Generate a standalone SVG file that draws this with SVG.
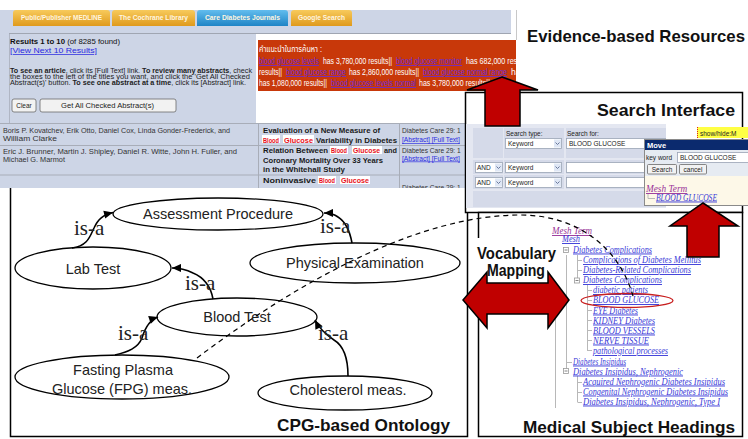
<svg xmlns="http://www.w3.org/2000/svg" width="748" height="439" viewBox="0 0 748 439">
<style>
.tab{font-family:"Liberation Sans",Arial,sans-serif;font-size:7px;font-weight:bold;fill:#fff6e0}
.sm{font-family:"Liberation Sans",Arial,sans-serif;font-size:6.6px;fill:#333}
.smb{font-family:"Liberation Sans",Arial,sans-serif;font-size:7px;font-weight:bold;fill:#1a1a1a}
.hl{font-family:"Liberation Sans",Arial,sans-serif;font-size:7px;font-weight:bold;fill:#e8101a}
.lnk{font-family:"Liberation Sans",Arial,sans-serif;fill:#2a2ae0;text-decoration:underline}
.rw{font-family:"Liberation Sans","Noto Sans Thai","DejaVu Sans",sans-serif;font-size:8.6px;fill:#fff}
.rl{font-family:"Liberation Sans",Arial,sans-serif;font-size:8.6px;fill:#6a2cd8;text-decoration:underline}
.title{font-family:"Liberation Sans",Arial,sans-serif;font-weight:bold;font-size:17px;fill:#111}
.node ellipse{fill:#fff;stroke:#000;stroke-width:1.3}
.node text{font-family:"Liberation Sans",Arial,sans-serif;font-size:14.5px;fill:#222;text-anchor:middle}
.isa{font-family:"Liberation Serif","Times New Roman",serif;font-size:21px;fill:#222}
.edge{fill:none;stroke:#000;stroke-width:1.6;marker-end:url(#ah)}
.mesh{font-family:"Liberation Serif","Times New Roman",serif;font-style:italic;font-size:9.3px;fill:#3a3ad8;text-decoration:underline}
.tree{stroke:#b8b8b8;stroke-width:1;fill:none}
.redarrow{fill:#c00000;stroke:#000;stroke-width:1.5}
.ui{font-family:"Liberation Sans",Arial,sans-serif;font-size:6.5px;fill:#222}
.sel{fill:#fff;stroke:#9aa3b5;stroke-width:0.8}
.btn{fill:#f2f2f2;stroke:#6a6a6a;stroke-width:0.8}
.cell{fill:#d5dae9}
</style>
<defs>
<linearGradient id="gold" x1="0" y1="0" x2="0" y2="1"><stop offset="0" stop-color="#f7ca5c"/><stop offset="1" stop-color="#df9a1c"/></linearGradient>
<linearGradient id="blue" x1="0" y1="0" x2="0" y2="1"><stop offset="0" stop-color="#62bcee"/><stop offset="1" stop-color="#1f84c6"/></linearGradient>
<clipPath id="redclip"><rect x="258" y="40" width="258" height="51"/></clipPath>
<marker id="ah" viewBox="0 0 10 10" refX="10" refY="5" markerWidth="10" markerHeight="9" markerUnits="userSpaceOnUse" orient="auto"><path d="M0,0.5 L10,5 L0,9.5 Z" fill="#000"/></marker>
</defs>
<rect width="748" height="439" fill="#fff"/>

<!-- Evidence-based resources screenshot -->
<g id="evidence-screenshot">
<rect x="0" y="10" width="511" height="178" fill="#cdd5e6"/>
<line x1="516.5" y1="10" x2="516.5" y2="40" stroke="#c8c8c8"/>
<path d="M13,26 V13 Q13,10 16,10 H107 Q110,10 110,13 V26 Z" fill="url(#gold)"/>
<path d="M112,26 V13 Q112,10 115,10 H192 Q195,10 195,13 V26 Z" fill="url(#gold)"/>
<path d="M197,26 V13 Q197,10 200,10 H285 Q288,10 288,13 V26 Z" fill="url(#blue)"/>
<path d="M291,26 V13 Q291,10 294,10 H349 Q352,10 352,13 V26 Z" fill="url(#gold)"/>
<text class="tab" x="21" y="19.5" textLength="81" lengthAdjust="spacingAndGlyphs">Public/Publisher MEDLINE</text>
<text class="tab" x="119" y="19.5" textLength="69" lengthAdjust="spacingAndGlyphs">The Cochrane Library</text>
<text class="tab" x="205" y="19.5" textLength="75" lengthAdjust="spacingAndGlyphs">Care Diabetes Journals</text>
<text class="tab" x="298" y="19.5" textLength="47" lengthAdjust="spacingAndGlyphs">Google Search</text>
<line x1="9" y1="33.5" x2="511" y2="33.5" stroke="#a0a6b2"/>
<line x1="9.5" y1="34" x2="9.5" y2="123" stroke="#b0b6c4"/>
<text x="10" y="43.5" font-family="Liberation Sans, Arial, sans-serif" font-size="7.8" fill="#111" textLength="110" lengthAdjust="spacingAndGlyphs"><tspan font-weight="bold">Results 1 to 10</tspan> (of 8285 found)</text>
<text class="lnk" x="10" y="53" font-size="7.5" textLength="87" lengthAdjust="spacingAndGlyphs">[View Next 10 Results]</text>
<text class="ui" x="10" y="72.5" font-size="6.2" textLength="242" lengthAdjust="spacingAndGlyphs"><tspan font-weight="bold">To see an article</tspan>, click its [Full Text] link. <tspan font-weight="bold">To review many abstracts</tspan>, check</text>
<text class="ui" x="10" y="78.8" font-size="6.2" textLength="240" lengthAdjust="spacingAndGlyphs">the boxes to the left of the titles you want, and click the 'Get All Checked</text>
<text class="ui" x="10" y="85.2" font-size="6.2" textLength="236" lengthAdjust="spacingAndGlyphs">Abstract(s)' button. <tspan font-weight="bold">To see one abstract at a time</tspan>, click its [Abstract] link.</text>
<rect class="btn" x="12" y="99" width="24" height="13" rx="2"/>
<text class="ui" x="24" y="108.3" font-size="7.5" text-anchor="middle">Clear</text>
<rect class="btn" x="40" y="99" width="136" height="13" rx="2"/>
<text class="ui" x="61" y="108.3" font-size="7.5" textLength="93" lengthAdjust="spacingAndGlyphs">Get All Checked Abstract(s)</text>

<rect x="256" y="34" width="260" height="89" fill="#fff"/>
<rect x="258" y="40" width="258" height="51" fill="#c8380a"/>
<g clip-path="url(#redclip)">
<text class="rw" x="259" y="52" textLength="63" lengthAdjust="spacingAndGlyphs">คำแนะนำในการค้นหา :</text>
<text class="rl" x="259" y="64" textLength="60" lengthAdjust="spacingAndGlyphs">blood glucose levels</text>
<text class="rw" x="323" y="64" textLength="69" lengthAdjust="spacingAndGlyphs">has 3,780,000 results||</text>
<text class="rl" x="396" y="64" textLength="66" lengthAdjust="spacingAndGlyphs">blood glucose monitor</text>
<text class="rw" x="466" y="64" textLength="66" lengthAdjust="spacingAndGlyphs">has 682,000 results||</text>
<text class="rw" x="259" y="75" textLength="23" lengthAdjust="spacingAndGlyphs">results||</text>
<text class="rl" x="286" y="75" textLength="60" lengthAdjust="spacingAndGlyphs">blood glucose range</text>
<text class="rw" x="349" y="75" textLength="70" lengthAdjust="spacingAndGlyphs">has 2,860,000 results||</text>
<text class="rl" x="423" y="75" textLength="84" lengthAdjust="spacingAndGlyphs">blood glucose normal range</text>
<text class="rw" x="511" y="75">has</text>
<text class="rw" x="259" y="86" textLength="68" lengthAdjust="spacingAndGlyphs">has 1,080,000 results||</text>
<text class="rl" x="331" y="86" textLength="85" lengthAdjust="spacingAndGlyphs">blood glucose levels normal</text>
<text class="rw" x="419" y="86" textLength="71" lengthAdjust="spacingAndGlyphs">has 3,780,000 results||</text>
</g>

<!-- result table -->
<line x1="0" y1="123.5" x2="465" y2="123.5" stroke="#a8adb8"/>
<line x1="0" y1="145.5" x2="465" y2="145.5" stroke="#a8adb8"/>
<line x1="0" y1="175" x2="465" y2="175" stroke="#a8adb8"/>
<line x1="258.5" y1="123" x2="258.5" y2="188" stroke="#a8adb8"/>
<line x1="399.5" y1="123" x2="399.5" y2="188" stroke="#a8adb8"/>
<text class="sm" x="3" y="133" textLength="227" lengthAdjust="spacingAndGlyphs">Boris P. Kovatchev, Erik Otto, Daniel Cox, Linda Gonder-Frederick, and</text>
<text class="sm" x="3" y="141" textLength="54" lengthAdjust="spacingAndGlyphs">William Clarke</text>
<text class="sm" x="3" y="154" textLength="234" lengthAdjust="spacingAndGlyphs">Eric J. Brunner, Martin J. Shipley, Daniel R. Witte, John H. Fuller, and</text>
<text class="sm" x="3" y="162" textLength="62" lengthAdjust="spacingAndGlyphs">Michael G. Marmot</text>

<text class="smb" x="263" y="133" textLength="117" lengthAdjust="spacingAndGlyphs">Evaluation of a New Measure of</text>
<rect x="262" y="135" width="18" height="8" fill="#fff"/>
<rect x="283" y="135" width="31" height="8" fill="#fff"/>
<text class="hl" x="263" y="142.5" textLength="16" lengthAdjust="spacingAndGlyphs">Blood</text>
<text class="hl" x="284" y="142.5" textLength="29" lengthAdjust="spacingAndGlyphs">Glucose</text>
<text class="smb" x="316" y="142.5" textLength="81" lengthAdjust="spacingAndGlyphs">Variability in Diabetes</text>
<text class="smb" x="263" y="153" textLength="65" lengthAdjust="spacingAndGlyphs">Relation Between</text>
<rect x="330" y="146" width="18" height="8" fill="#fff"/>
<rect x="352" y="146" width="30" height="8" fill="#fff"/>
<text class="hl" x="331" y="153" textLength="16" lengthAdjust="spacingAndGlyphs">Blood</text>
<text class="hl" x="353" y="153" textLength="27" lengthAdjust="spacingAndGlyphs">Glucose</text>
<text class="smb" x="384" y="153" textLength="13" lengthAdjust="spacingAndGlyphs">and</text>
<text class="smb" x="263" y="162.5" textLength="120" lengthAdjust="spacingAndGlyphs">Coronary Mortality Over 33 Years</text>
<text class="smb" x="263" y="172" textLength="82" lengthAdjust="spacingAndGlyphs">in the Whitehall Study</text>
<text class="smb" x="263" y="182.5" textLength="53" lengthAdjust="spacingAndGlyphs">Noninvasive</text>
<rect x="318" y="176" width="18" height="8" fill="#fff"/>
<rect x="340" y="176" width="30" height="8" fill="#fff"/>
<text class="hl" x="319" y="182.5" textLength="16" lengthAdjust="spacingAndGlyphs">Blood</text>
<text class="hl" x="341" y="182.5" textLength="28" lengthAdjust="spacingAndGlyphs">Glucose</text>

<text class="sm" x="402" y="133">Diabetes Care 29: 1</text>
<text class="lnk" x="402" y="142" font-size="6.6">[Abstract] [Full Text]</text>
<text class="sm" x="402" y="153">Diabetes Care 29: 1</text>
<text class="lnk" x="402" y="160.5" font-size="6.6">[Abstract] [Full Text]</text>
<text class="sm" x="402" y="190">Diabetes Care 29: 1</text>
</g>

<!-- CPG ontology panel -->
<g id="ontology-panel">
<rect x="10" y="188" width="458" height="249" fill="#fff"/>
<path d="M10.5,188 V436.5 H467.5 V188" fill="none" stroke="#000" stroke-width="1.5"/>
<text class="title" x="277" y="431" textLength="173" lengthAdjust="spacingAndGlyphs">CPG-based Ontology</text>
</g>

<!-- Search interface panel -->
<g id="search-panel">
<rect x="465.5" y="92.5" width="277" height="120" fill="#fff" stroke="#000" stroke-width="1.5"/>
<text class="title" x="597" y="116" textLength="138" lengthAdjust="spacingAndGlyphs">Search Interface</text>
<rect x="466" y="124" width="200" height="84" fill="#e4e7f1"/>
<rect class="cell" x="473" y="128" width="30" height="30"/>
<rect class="cell" x="504" y="128" width="60" height="30"/>
<rect class="cell" x="566" y="128" width="100" height="30"/>
<rect class="cell" x="473" y="160" width="30" height="14"/>
<rect class="cell" x="504" y="160" width="60" height="14"/>
<rect class="cell" x="566" y="160" width="100" height="14"/>
<rect class="cell" x="473" y="175" width="30" height="14"/>
<rect class="cell" x="504" y="175" width="60" height="14"/>
<rect class="cell" x="566" y="175" width="100" height="14"/>
<rect class="cell" x="473" y="191" width="193" height="16"/>
<text class="ui" x="506" y="136" font-size="5.6">Search type:</text>
<text class="ui" x="567" y="136" font-size="5.6">Search for:</text>
<rect class="sel" x="505.5" y="138.5" width="56" height="10"/>
<text class="ui" x="508" y="146">Keyword</text>
<rect x="554" y="139.5" width="7" height="8" fill="#dfe7f5"/>
<path d="M555.5,142.5 L557.5,144.5 L559.5,142.5" fill="none" stroke="#5a6a90" stroke-width="0.9"/>
<rect class="sel" x="566.5" y="138.5" width="99" height="10"/>
<text class="ui" x="569" y="146">BLOOD GLUCOSE</text>
<rect class="sel" x="475.5" y="162.5" width="27" height="10"/>
<text class="ui" x="477" y="170">AND</text>
<rect x="495" y="163.5" width="7" height="8" fill="#dfe7f5"/>
<path d="M496.5,166.5 L498.5,168.5 L500.5,166.5" fill="none" stroke="#5a6a90" stroke-width="0.9"/>
<rect class="sel" x="505.5" y="162.5" width="56" height="10"/>
<text class="ui" x="508" y="170">Keyword</text>
<rect x="554" y="163.5" width="7" height="8" fill="#dfe7f5"/>
<path d="M555.5,166.5 L557.5,168.5 L559.5,166.5" fill="none" stroke="#5a6a90" stroke-width="0.9"/>
<rect class="sel" x="566.5" y="162.5" width="99" height="10"/>
<rect class="sel" x="475.5" y="177.5" width="27" height="10"/>
<text class="ui" x="477" y="185">AND</text>
<rect x="495" y="178.5" width="7" height="8" fill="#dfe7f5"/>
<path d="M496.5,181.5 L498.5,183.5 L500.5,181.5" fill="none" stroke="#5a6a90" stroke-width="0.9"/>
<rect class="sel" x="505.5" y="177.5" width="56" height="10"/>
<text class="ui" x="508" y="185">Keyword</text>
<rect x="554" y="178.5" width="7" height="8" fill="#dfe7f5"/>
<path d="M555.5,181.5 L557.5,183.5 L559.5,181.5" fill="none" stroke="#5a6a90" stroke-width="0.9"/>
<rect class="sel" x="566.5" y="177.5" width="99" height="10"/>

<rect x="697" y="127" width="51" height="11" fill="#ffff44"/>
<line x1="697.5" y1="127" x2="697.5" y2="138" stroke="#e02020" stroke-dasharray="1,1"/>
<text class="ui" x="700" y="135.5" font-size="7">show/hide:M</text>

<rect x="644.5" y="139.5" width="104" height="66" fill="#fdf8e8" stroke="#8a8a8a"/>
<rect x="645" y="140" width="103" height="10" fill="#0b2a6e"/>
<text x="647" y="148.3" font-family="Liberation Sans, Arial, sans-serif" font-size="7.5" font-weight="bold" fill="#fff">Move</text>
<rect x="645" y="150" width="103" height="26" fill="#e6ebf2"/>
<text class="ui" x="646" y="160" font-size="6">key word</text>
<rect class="sel" x="677.5" y="152.5" width="71" height="10"/>
<text class="ui" x="680" y="160">BLOOD GLUCOSE</text>
<rect class="btn" x="647.5" y="164.5" width="29" height="9.5" rx="1"/>
<text class="ui" x="662" y="172" text-anchor="middle">Search</text>
<rect class="btn" x="679.5" y="164.5" width="27" height="9.5" rx="1"/>
<text class="ui" x="693" y="172" text-anchor="middle">cancel</text>
<text class="mesh" x="646" y="192" font-size="8" style="fill:#993399">Mesh Term</text>
<path class="tree" d="M648,194 V198.5 H655"/>
<text class="mesh" x="656" y="200.5" font-size="7.5" textLength="61" lengthAdjust="spacingAndGlyphs">BLOOD GLUCOSE</text>
</g>

<!-- MeSH panel -->
<g id="mesh-panel">
<rect x="478.5" y="212.5" width="264" height="224" fill="#fff" stroke="#000" stroke-width="1.5"/>
<path class="tree" d="M555.5,244 V408 M566.5,255 V372 M566.5,362.5 H572 M577.5,255 V281 M577.5,260.5 H582 M577.5,270.5 H582 M587.5,285 V351 M587.5,290.5 H592 M587.5,300.5 H592 M587.5,310.5 H592 M587.5,320.5 H592 M587.5,330.5 H592 M587.5,340.5 H592 M587.5,350.5 H592 M577.5,376 V402 M577.5,382.5 H582 M577.5,392.5 H582 M577.5,402.5 H582"/>
<g fill="#fff" stroke="#999" stroke-width="0.8">
<rect x="563.5" y="247.5" width="5" height="5"/>
<rect x="574.5" y="278" width="5" height="5"/>
<rect x="563.5" y="368.5" width="5" height="5"/>
</g>
<path d="M564.5,250 H567.5 M575.5,280.5 H578.5 M564.5,371 H567.5" stroke="#666" stroke-width="0.8"/>
<text class="mesh" x="552" y="234" textLength="40" lengthAdjust="spacingAndGlyphs" style="fill:#993399">Mesh Term</text>
<text class="mesh" x="562" y="242" textLength="18" lengthAdjust="spacingAndGlyphs">Mesh</text>
<text class="mesh" x="573" y="252.5" textLength="79" lengthAdjust="spacingAndGlyphs">Diabetes Complications</text>
<text class="mesh" x="583" y="263" textLength="118" lengthAdjust="spacingAndGlyphs">Complications of Diabetes Mellitus</text>
<text class="mesh" x="583" y="273" textLength="108" lengthAdjust="spacingAndGlyphs">Diabetes-Related Complications</text>
<text class="mesh" x="583" y="283" textLength="79" lengthAdjust="spacingAndGlyphs">Diabetes Complications</text>
<text class="mesh" x="593" y="293" textLength="55" lengthAdjust="spacingAndGlyphs">diabetic patients</text>
<text class="mesh" x="593" y="303" textLength="66" lengthAdjust="spacingAndGlyphs">BLOOD GLUCOSE</text>
<text class="mesh" x="593" y="313.5" textLength="45" lengthAdjust="spacingAndGlyphs">EYE Diabetes</text>
<text class="mesh" x="593" y="323.5" textLength="62" lengthAdjust="spacingAndGlyphs">KIDNEY Diabetes</text>
<text class="mesh" x="593" y="333.5" textLength="62" lengthAdjust="spacingAndGlyphs">BLOOD VESSELS</text>
<text class="mesh" x="593" y="343.5" textLength="56" lengthAdjust="spacingAndGlyphs">NERVE TISSUE</text>
<text class="mesh" x="593" y="354" textLength="75" lengthAdjust="spacingAndGlyphs">pathological processes</text>
<text class="mesh" x="573" y="364.5" textLength="53" lengthAdjust="spacingAndGlyphs">Diabetes Insipidus</text>
<text class="mesh" x="573" y="374.5" textLength="110" lengthAdjust="spacingAndGlyphs">Diabetes Insipidus, Nephrogenic</text>
<text class="mesh" x="583" y="384.5" textLength="142" lengthAdjust="spacingAndGlyphs">Acquired Nephrogenic Diabetes Insipidus</text>
<text class="mesh" x="583" y="394.5" textLength="145" lengthAdjust="spacingAndGlyphs">Congenital Nephrogenic Diabetes Insipidus</text>
<text class="mesh" x="583" y="404.5" textLength="137" lengthAdjust="spacingAndGlyphs">Diabetes Insipidus, Nephrogenic, Type I</text>
<ellipse cx="627" cy="300.5" rx="46" ry="7" fill="none" stroke="#c82020" stroke-width="1.3"/>
<text class="title" x="523" y="432.5" textLength="212" lengthAdjust="spacingAndGlyphs">Medical Subject Headings</text>
</g>

<text class="title" x="527" y="42" textLength="218" lengthAdjust="spacingAndGlyphs">Evidence-based Resources</text>

<!-- Big red arrows -->
<g id="arrows">
<polygon class="redarrow" points="502,77 538,90 520,90 520,126 485,126 485,90 467,90"/>
<polygon class="redarrow" points="703,203 738,226 719,226 719,257 687,257 687,226 670,226"/>
<rect x="472" y="238" width="86" height="45" fill="#fff"/>
<polygon class="redarrow" points="463,300 487,272 487,283 548,283 548,272 569,300 548,328 548,314 487,314 487,328"/>
<text class="title" x="477" y="258.5" font-size="15.5" textLength="79" lengthAdjust="spacingAndGlyphs">Vocabulary</text>
<text class="title" x="487" y="275.5" font-size="15.5" textLength="58" lengthAdjust="spacingAndGlyphs">Mapping</text>
</g>

<!-- Ontology nodes -->
<g id="n-assessment" class="node"><ellipse cx="218" cy="214" rx="105" ry="16"/><text x="218" y="218.5">Assessment Procedure</text></g>
<g id="n-labtest" class="node"><ellipse cx="93" cy="268" rx="78" ry="21"/><text x="93" y="274">Lab Test</text></g>
<g id="n-physical" class="node"><ellipse cx="355" cy="263" rx="105" ry="20"/><text x="355" y="268">Physical Examination</text></g>
<g id="n-bloodtest" class="node"><ellipse cx="237" cy="317" rx="80" ry="19"/><text x="237" y="322">Blood Test</text></g>
<g id="n-fpg" class="node"><ellipse cx="122" cy="377" rx="107" ry="22"/><text x="123" y="375">Fasting Plasma</text><text x="122" y="394">Glucose (FPG) meas.</text></g>
<g id="n-cholesterol" class="node"><ellipse cx="345" cy="393" rx="87" ry="17"/><text x="348" y="395">Cholesterol meas.</text></g>

<!-- Connectors -->
<g id="connectors">
<path class="edge" d="M72,248 C88,246 90,236 94,228 C98,219 103,215 113,212.5"/>
<text class="isa" x="74" y="235">is-a</text>
<path class="edge" d="M213,299 C211,288 205,278 193,273 C187,270 180,268 172,268"/>
<text class="isa" x="185" y="290">is-a</text>
<path class="edge" d="M352,243 C350,232 346,222 338,217 C334,214 330,213 324,213"/>
<text class="isa" x="320" y="233">is-a</text>
<path class="edge" d="M115,355 C128,352 138,348 142,338 C145,328 149,320 158,317"/>
<text class="isa" x="118" y="340">is-a</text>
<path class="edge" d="M348,376 C348,358 344,346 334,340 C325,334 319,328 315,320"/>
<text class="isa" x="318" y="340">is-a</text>
<path d="M197,358 C300,280 420,215 520,215 C580,215 620,250 633,296" fill="none" stroke="#000" stroke-width="1.2" stroke-dasharray="5,4"/>
</g>
</svg>
